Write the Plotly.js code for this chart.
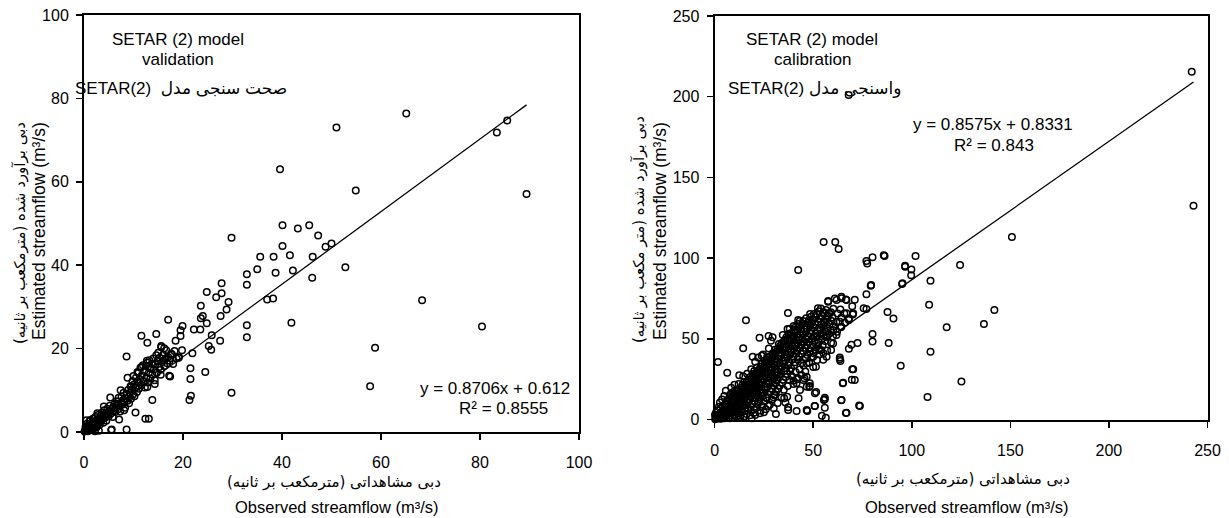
<!DOCTYPE html>
<html><head><meta charset="utf-8">
<script src="https://cdn.plot.ly/plotly-3.0.1.min.js"></script>
<style>html,body{margin:0;padding:0;background:#fff;}</style>
</head><body>
<div id="chart" style="width:1229px;height:518px;"></div>
<script>
// ---------- DATA ----------
// Validation set: [observed, estimated] m3/s
const validationPoints = [
[65.1,76.4],[51.0,73.0],[39.6,63.0],[54.9,57.9],[83.4,71.8],[85.5,74.7],[89.4,57.1],[40.1,49.6],[43.2,48.8],[45.5,49.6],
[47.3,47.1],[40.1,44.6],[38.3,42.0],[41.6,42.4],[46.2,42.0],[48.8,44.4],[50.0,45.2],[38.7,38.2],[42.2,38.7],[46.1,37.0],
[52.8,39.5],[38.2,32.0],[41.9,26.2],[68.3,31.6],[80.4,25.3],[58.8,20.2],[57.8,11.0],
[29.8,46.6],[35.6,42.0],[35.0,39.0],[32.9,37.8],[32.9,35.3],[27.8,35.7],[24.8,33.6],[27.8,33.3],[26.7,32.3],[29.2,31.2],
[37.0,31.8],[23.6,30.3],[28.8,29.4],[27.6,27.8],[24.0,27.8],[23.6,27.3],[24.8,26.1],[17.0,26.9],[19.9,25.4],[19.5,24.4],
[22.2,24.6],[23.5,24.6],[32.9,25.6],[32.9,22.7],[27.5,21.9],[25.8,23.2],[11.6,23.1],[14.6,23.5],[12.8,21.4],[18.5,21.9],
[19.5,23.0],[15.6,20.6],[16.2,20.1],[25.2,20.6],[25.7,19.7],[21.9,18.9],[17.8,18.5],[19.1,17.8],[8.6,18.1],[21.5,15.3],
[21.5,12.7],[24.5,14.4],[17.2,13.5],[21.6,8.7],[21.3,7.7],[29.8,9.4],[10.4,4.7],[12.4,3.2],[13.1,3.2],[8.6,0.6],[5.6,0.6],
[13.8,7.7],[12.8,10.8],[11.1,11.8],[12.7,17.1],[11.6,15.6],[13.3,15.3],[14.9,17.1],[16.5,17.7],[15.5,13.7],[17.4,13.3],
[14.3,11.5],[10.0,13.4],[8.8,13.0],[10.8,14.4],[9.6,10.9],[7.4,10.0],[5.3,8.3],[6.7,6.8],[8.1,5.2],[7.1,3.0],[4.0,6.1],
[2.7,4.5],[1.3,2.9],[0.7,0.9],
[0.2,0.3],[0.3,1.2],[0.5,0.5],[0.6,2.0],[0.8,0.2],[0.9,1.5],[1.0,0.8],[1.1,2.6],[1.2,1.3],[1.4,0.4],[1.5,2.1],[1.6,1.6],
[1.8,3.2],[1.9,0.9],[2.0,2.4],[2.1,1.7],[2.3,3.6],[2.4,2.0],[2.5,1.1],[2.6,2.9],[2.8,4.1],[2.9,2.5],[3.0,0.3],[3.1,3.3],
[3.2,1.8],[3.4,3.9],[3.5,2.8],[3.6,4.6],[3.8,3.2],[3.9,2.2],[4.0,4.0],[4.1,5.2],[4.3,3.5],[4.4,4.5],[4.5,2.7],[4.7,5.6],
[4.8,4.2],[5.0,3.8],[5.1,5.0],[5.2,6.3],[5.4,4.4],[5.5,0.5],[5.6,5.5],[5.8,3.6],[5.9,6.0],[6.0,5.1],[6.2,6.8],[6.3,4.8],
[6.5,5.9],[6.6,7.4],[6.8,5.4],[6.9,6.5],[7.0,8.2],[7.2,6.1],[7.3,4.9],[7.5,7.0],[7.6,8.5],[7.8,6.6],[7.9,7.6],[8.0,9.4],
[8.2,7.2],[8.3,5.8],[8.4,8.0],[8.6,9.0],[8.8,7.5],[8.9,10.1],[9.0,8.4],[9.1,6.9],[9.3,9.4],[9.4,11.0],[9.5,8.0],[9.7,10.2],
[9.8,12.2],[9.9,9.0],[10.1,11.4],[10.2,8.6],[10.4,10.6],[10.5,13.0],[10.7,9.6],[10.8,12.0],[11.0,14.2],[11.1,10.4],
[11.3,12.6],[11.4,15.4],[11.6,11.2],[11.7,13.6],[11.9,16.0],[12.0,12.2],[12.2,14.6],[12.3,10.7],[12.5,15.8],[12.6,13.0],
[12.8,16.6],[12.9,11.9],[13.1,14.2],[13.2,17.2],[13.4,12.8],[13.5,15.4],[13.7,16.4],[13.8,13.8],[14.0,17.6],[14.1,15.0],
[14.3,12.4],[14.4,16.2],[14.6,18.4],[14.7,14.2],[14.9,16.9],[15.0,19.0],[15.2,15.6],[15.3,17.8],[15.5,14.9],[15.6,20.3],
[15.8,16.8],[16.0,18.5],[16.2,15.8],[16.4,17.4],[16.6,19.6],[16.8,16.5],[17.0,18.0],[17.3,17.1],[17.6,18.8],[18.0,16.3],
[18.3,19.4],[18.7,17.6],[19.2,18.0],[19.8,19.6],[0.1,0.1],[0.4,0.8],[0.7,1.0],[1.3,0.6],[2.2,0.2],[0.5,2.8],[1.7,2.4],
[2.7,1.5],[3.3,2.5]
];
// Calibration set: [observed, estimated] m3/s
const calibrationPoints = [
[242.0,215.5],[242.9,132.5],[150.8,113.1],[55.3,110.0],[61.2,110.0],[62.9,105.6],[77.0,98.2],[77.4,96.6],[80.1,100.5],
[86.2,101.3],[101.9,101.3],[96.6,94.7],[99.8,93.0],[99.7,89.3],[124.5,95.7],[95.1,84.0],[109.5,86.0],[79.2,82.9],[77.0,77.6],
[71.1,74.2],[108.8,71.1],[141.9,67.8],[136.6,59.2],[117.7,57.1],[87.7,66.6],[90.7,62.5],[77.0,68.5],[75.6,68.9],[80.1,53.0],
[80.1,48.4],[88.3,47.4],[109.5,42.0],[94.4,33.3],[125.2,23.6],[108.0,13.9],[72.5,47.4],[69.4,46.3],[68.1,43.9],[70.3,31.1],
[69.6,24.7],[65.0,22.4],[64.2,11.9],[73.3,8.6],[66.6,4.0],[63.5,37.3],[63.8,36.2],[59.1,43.1],[55.9,12.5],[55.9,7.3],
[56.4,1.1],[54.4,2.3],[50.7,8.4],[47.0,5.3],[51.5,17.0],[48.0,20.1],[45.6,25.5],[42.4,92.6],[15.9,61.5],[1.7,35.6],
[14.5,44.1],[6.4,29.0],[22.8,50.7],[27.4,51.7],[29.4,50.9],[19.3,38.9],[23.9,39.5],[37.2,66.0],[37.0,56.1],[42.4,61.6],
[47.7,60.6],[43.7,55.9],[57.6,73.0],[61.9,74.0],[64.4,75.1],[66.9,74.0],[79.4,83.3],[85.8,101.8],[95.3,84.4],[96.6,95.3],
[41.6,5.3],[37.3,5.9],[31.1,3.4],[27.2,8.4],[23.0,3.8],[18.8,0.7],[42.6,13.1],[35.3,13.1],[35.9,10.6],[29.9,13.8],
[48.3,20.8],[46.7,26.5],[42.0,25.8],[40.0,24.0],[56.8,38.9],[63.5,38.4],[68.0,201.0],
[55.4,66.4],[57.6,73.4],[61.0,75.0],[64.3,76.0],[66.6,74.4],[70.3,65.8],[66.9,65.8],[63.5,60.6],[60.1,55.5],[56.7,51.3],
[68.1,61.6],[64.3,57.5],[61.8,52.3],[53.0,43.1],[50.0,38.9],[46.6,34.8],[51.4,32.7],[55.2,41.0],[60.1,47.1],[48.3,22.4],
[45.0,24.5],[50.9,16.2],[37.3,7.6],[46.7,5.9],[50.9,8.4],[55.4,12.1],[20.6,2.8],[17.1,6.9],[22.1,11.0],[26.4,13.1],
[30.6,15.2],[36.8,14.1],[43.3,18.3],[41.6,22.4],[46.7,20.3],[55.9,13.5],[65.2,22.8],[69.8,31.1],[71.1,24.5],[64.4,12.1],
[66.9,4.2],[73.7,8.4],[7.8,0.7],[12.9,1.4],[10.0,3.0],[15.0,2.0],[20.0,6.0],[25.0,4.5],
[0.3,0.2],[0.5,1.5],[0.2,3.0],[1.0,0.5],[1.2,2.4],[0.8,4.5],[1.4,1.2],
[2.0,1.0],[2.3,3.2],[1.8,5.6],[2.2,7.9],[3.1,0.4],[2.8,2.2],[3.3,4.4],[3.0,6.8],[2.7,10.5],
[4.2,1.5],[3.9,3.6],[4.4,5.8],[4.1,8.2],[3.8,12.4],[5.0,0.8],[5.3,3.0],[4.8,5.2],[5.2,7.4],[5.5,9.6],[4.9,14.6],
[6.1,2.2],[5.8,4.6],[6.3,6.8],[6.0,9.0],[6.4,11.5],[5.7,17.8],[7.2,1.2],[6.9,3.8],[7.4,6.2],[7.1,8.4],[6.8,10.8],[7.3,13.2],
[8.0,2.6],[8.3,5.4],[7.8,7.8],[8.2,10.2],[8.5,12.6],[7.9,15.5],[8.4,19.6],[9.1,1.0],[8.8,4.2],[9.4,7.0],[9.0,9.6],[9.3,12.0],
[8.9,14.4],[9.5,17.0],[10.2,3.0],[9.8,6.0],[10.4,8.8],[10.0,11.4],[10.3,13.8],[9.9,16.3],[10.1,21.5],
[11.0,1.8],[11.3,5.0],[10.8,8.0],[11.2,10.8],[11.5,13.2],[10.9,15.6],[11.4,18.4],
[12.1,3.8],[11.8,7.0],[12.4,10.2],[12.0,12.6],[12.3,15.0],[11.9,17.6],[12.2,22.0],[12.5,27.4],
[13.0,2.4],[13.3,6.0],[12.8,9.4],[13.2,12.0],[13.5,14.4],[12.9,16.8],[13.4,19.6],
[14.1,4.6],[13.8,8.2],[14.4,11.4],[14.0,13.8],[14.3,16.2],[13.9,18.8],[14.2,21.6],[14.5,26.8],
[15.0,1.6],[15.3,6.8],[14.8,10.6],[15.2,13.2],[15.5,15.6],[14.9,18.0],[15.4,20.6],[15.1,23.4],
[16.2,3.4],[15.8,8.8],[16.4,12.4],[16.0,15.0],[16.3,17.4],[15.9,20.0],[16.1,22.8],[16.5,28.4],
[17.1,5.4],[16.8,10.6],[17.4,14.2],[17.0,16.8],[17.3,19.2],[16.9,21.8],[17.2,24.6],
[18.0,2.6],[18.3,7.8],[17.8,12.4],[18.2,16.0],[18.5,18.6],[17.9,21.0],[18.4,23.6],[18.1,26.4],[18.6,31.2],
[19.1,9.6],[18.8,14.2],[19.4,17.8],[19.0,20.4],[19.3,22.8],[18.9,25.4],[19.2,28.2],
[20.0,4.2],[20.3,11.4],[19.8,16.0],[20.2,19.6],[20.5,22.2],[19.9,24.6],[20.4,27.2],[20.1,30.0],[20.6,35.8],
[21.1,7.2],[20.8,13.2],[21.4,17.8],[21.0,21.4],[21.3,24.0],[20.9,26.4],[21.2,29.0],[21.5,32.2],
[22.0,9.8],[22.3,15.0],[21.8,19.6],[22.2,23.2],[22.5,25.8],[21.9,28.2],[22.4,30.8],[22.1,38.4],
[23.2,5.6],[22.8,12.4],[23.4,16.8],[23.0,21.4],[23.3,25.0],[22.9,27.6],[23.1,30.0],[23.5,32.8],
[24.0,8.4],[24.3,14.6],[23.8,18.6],[24.2,23.2],[24.5,26.8],[23.9,29.4],[24.4,31.8],[24.1,34.6],[24.6,40.2],
[25.1,11.2],[24.8,16.6],[25.4,20.4],[25.0,25.0],[25.3,28.6],[24.9,31.2],[25.2,33.6],[25.5,36.4],
[26.0,6.4],[26.3,13.4],[25.8,18.4],[26.2,22.2],[26.5,26.8],[25.9,30.4],[26.4,33.0],[26.1,35.4],[26.6,38.6],
[27.1,15.6],[26.8,20.2],[27.4,24.0],[27.0,28.6],[27.3,32.2],[26.9,34.8],[27.2,37.2],[27.5,44.0],
[28.0,9.2],[28.3,17.4],[27.8,22.0],[28.2,25.8],[28.5,30.4],[27.9,34.0],[28.4,36.6],[28.1,39.0],[28.6,48.8],
[29.1,12.4],[28.8,19.2],[29.4,23.8],[29.0,27.6],[29.3,32.2],[28.9,35.8],[29.2,38.4],[29.5,41.0],
[30.0,7.0],[30.3,15.0],[29.8,21.0],[30.2,25.6],[30.5,29.4],[29.9,34.0],[30.4,37.6],[30.1,40.2],[30.6,43.2],
[31.1,17.2],[30.8,22.8],[31.4,27.4],[31.0,31.2],[31.3,35.8],[30.9,39.4],[31.2,42.0],
[32.0,10.2],[32.3,19.0],[31.8,24.6],[32.2,29.2],[32.5,33.0],[31.9,37.6],[32.4,41.2],[32.1,43.8],[32.6,46.8],
[33.1,21.0],[32.8,26.4],[33.4,31.0],[33.0,34.8],[33.3,39.4],[32.9,43.0],[33.2,45.6],
[34.0,13.6],[34.3,22.8],[33.8,28.2],[34.2,32.8],[34.5,36.6],[33.9,41.2],[34.4,44.8],[34.1,47.4],[34.6,52.4],
[35.1,18.4],[34.8,24.6],[35.4,30.0],[35.0,34.6],[35.3,38.4],[34.9,43.0],[35.2,46.6],[35.5,49.2],
[36.0,26.4],[36.3,31.8],[35.8,36.4],[36.2,40.2],[36.5,44.8],[35.9,48.4],[36.4,51.0],
[37.1,20.8],[36.8,28.2],[37.4,33.6],[37.0,38.2],[37.3,42.0],[36.9,46.6],[37.2,50.2],[37.5,53.2],
[38.0,24.4],[38.3,30.0],[37.8,35.4],[38.2,40.0],[38.5,43.8],[37.9,48.4],[38.4,52.0],[38.1,56.2],
[39.1,27.0],[38.8,31.8],[39.4,37.2],[39.0,41.8],[39.3,45.6],[38.9,50.2],[39.2,53.8],
[40.0,22.0],[40.3,33.6],[39.8,39.0],[40.2,43.6],[40.5,47.4],[39.9,52.0],[40.4,55.6],[40.1,58.0],
[41.1,29.4],[40.8,35.4],[41.4,40.8],[41.0,45.4],[41.3,49.2],[40.9,53.8],[41.2,57.4],
[42.0,25.0],[42.3,37.2],[41.8,42.6],[42.2,47.2],[42.5,51.0],[41.9,55.6],[42.4,59.2],
[43.1,31.0],[42.8,39.0],[43.4,44.4],[43.0,49.0],[43.3,52.8],[42.9,57.4],[43.2,61.0],
[44.0,27.6],[44.3,35.0],[43.8,40.8],[44.2,46.2],[44.5,50.8],[43.9,54.6],[44.4,59.2],
[45.1,33.4],[44.8,42.6],[45.4,48.0],[45.0,52.6],[45.3,56.4],[44.9,61.0],
[46.0,29.8],[46.3,37.8],[45.8,44.4],[46.2,49.8],[46.5,54.4],[45.9,58.2],[46.4,62.8],
[47.1,40.0],[46.8,46.2],[47.4,51.6],[47.0,56.2],[47.3,60.0],
[48.0,35.2],[48.3,42.2],[47.8,48.0],[48.2,53.4],[48.5,58.0],[47.9,61.8],[48.4,65.4],
[49.1,38.4],[48.8,44.4],[49.4,49.8],[49.0,55.2],[49.3,59.8],[48.9,63.6],
[50.0,32.6],[50.3,41.0],[49.8,46.6],[50.2,51.6],[50.5,57.0],[49.9,61.6],[50.4,65.4],
[51.1,43.4],[50.8,48.8],[51.4,53.4],[51.0,58.8],[51.3,63.4],
[52.0,36.8],[52.3,45.6],[51.8,51.0],[52.2,55.2],[52.5,60.6],[51.9,65.2],[52.4,69.0],
[53.1,40.2],[52.8,47.8],[53.4,53.2],[53.0,57.0],[53.3,62.4],[52.9,67.0],
[54.0,43.0],[54.3,50.0],[53.8,55.4],[54.2,58.8],[54.5,64.2],[53.9,68.8],
[55.1,37.0],[54.8,46.2],[55.4,52.2],[55.0,57.6],[55.3,60.6],[54.9,66.0],
[56.0,48.6],[56.3,54.4],[55.8,59.8],[56.2,62.4],[56.5,67.8],
[57.1,42.8],[56.8,51.0],[57.4,56.6],[57.0,62.0],[57.3,64.2],
[58.0,53.2],[58.3,58.8],[57.8,64.2],[58.2,66.0],
[59.1,47.6],[58.8,55.4],[59.4,61.0],[59.0,66.4],
[60.0,51.4],[60.3,57.6],[59.8,63.2],[60.2,68.6],
[62.1,54.4],[61.8,60.4],[62.4,65.6],[64.0,57.2],[64.3,63.0],[63.8,68.2],
[66.1,60.0],[65.8,65.6],[68.0,62.6],[70.1,65.0],[69.8,70.2]
];
// Linear trend lines printed on the chart
const validationFit = {slope: 0.8706, intercept: 0.612, r2: 0.8555};
const calibrationFit = {slope: 0.8575, intercept: 0.8331, r2: 0.843};
// Axis ticks
const validationTicks = [0, 20, 40, 60, 80, 100];
const calibrationTicks = [0, 50, 100, 150, 200, 250];
// Texts
const yTitleFa1 = "دبی برآورد شده (مترمکعب بر ثانیه)";
const yTitleFa2 = "دبی برآورد شده (متر مکعب بر ثانیه)";
const yTitleEn = "Estimated streamflow (m³/s)";
const xTitleFa = "دبی مشاهداتی (مترمکعب بر ثانیه)";
const xTitleEn = "Observed streamflow (m³/s)";
const modelLabel = "SETAR (2) model";
const validationLabel = "validation";
const calibrationLabel = "calibration";
const validationFa = "SETAR(2)  صحت سنجی مدل";
const calibrationFa = "SETAR(2) واسنجی مدل";

// ---------- DRAWING ----------
const W = 1229, H = 518;
const FONT = "'Liberation Sans Narrow', 'Arial Narrow', 'Liberation Sans', Arial, 'DejaVu Sans', sans-serif";
const FAFONT = "'DejaVu Sans', 'Liberation Sans', sans-serif";
const px = v => v / W;
const py = v => 1 - v / H;

function xSpan(points) {
  const xs = points.map(p => p[0]);
  return [Math.min(...xs), Math.max(...xs)];
}
const vRange = xSpan(validationPoints);
const cRange = xSpan(calibrationPoints);

const marker = {symbol: 'circle-open', size: 6.5, color: '#000', line: {width: 1.5, color: '#000'}};

const traces = [
  {type: 'scatter', mode: 'markers', x: validationPoints.map(p => p[0]), y: validationPoints.map(p => p[1]),
   xaxis: 'x', yaxis: 'y', marker: marker, cliponaxis: false, hoverinfo: 'skip'},
  {type: 'scatter', mode: 'lines', x: vRange, y: vRange.map(v => validationFit.slope * v + validationFit.intercept),
   xaxis: 'x', yaxis: 'y', line: {color: '#000', width: 1.3}, hoverinfo: 'skip'},
  {type: 'scatter', mode: 'markers', x: calibrationPoints.map(p => p[0]), y: calibrationPoints.map(p => p[1]),
   xaxis: 'x2', yaxis: 'y2', marker: marker, cliponaxis: false, hoverinfo: 'skip'},
  {type: 'scatter', mode: 'lines', x: cRange, y: cRange.map(v => calibrationFit.slope * v + calibrationFit.intercept),
   xaxis: 'x2', yaxis: 'y2', line: {color: '#000', width: 1.3}, hoverinfo: 'skip'}
];

function axis(domain, range, ticks, anchor, standoff) {
  return {
    domain: domain, range: range, anchor: anchor, tickvals: ticks, ticktext: ticks.map(String),
    showgrid: false, zeroline: false, showline: true, mirror: true, linecolor: '#000', linewidth: 2,
    ticks: 'outside', ticklen: 6, tickwidth: 1.5, tickcolor: '#000',
    tickfont: {family: FONT, size: 16, color: '#000'}, ticklabelstandoff: standoff, fixedrange: true
  };
}

const T = (text, x, y, opts = {}) => Object.assign({
  text: text, xref: 'paper', yref: 'paper', x: px(x), y: py(y), showarrow: false,
  xanchor: 'center', yanchor: 'middle', font: {family: FONT, size: 17, color: '#000'}
}, opts);

const FA = {family: FAFONT, size: 15, color: '#000'};
const annotations = [
  T(modelLabel, 178, 40), T(validationLabel, 178, 60),
  T(validationFa, 181, 88),
  T('y = ' + validationFit.slope + 'x + ' + validationFit.intercept, 572, 388, {xanchor: 'right'}),
  T('R² = ' + validationFit.r2, 503, 408),
  T(yTitleFa1, 20, 233, {textangle: -90, font: FA}),
  T(yTitleEn, 39, 231, {textangle: -90, font: {family: FONT, size: 17.5, color: '#000'}}),
  T(xTitleFa, 334, 482, {font: FA}),
  T(xTitleEn, 337, 507, {font: {family: FONT, size: 16.5, color: '#000'}}),

  T(modelLabel, 812, 40), T(calibrationLabel, 813, 60),
  T(calibrationFa, 814, 88),
  T('y = ' + calibrationFit.slope + 'x + ' + calibrationFit.intercept, 993, 125),
  T('R² = ' + calibrationFit.r2, 994, 145),
  T(yTitleFa2, 639, 230, {textangle: -90, font: FA}),
  T(yTitleEn, 660, 231, {textangle: -90, font: {family: FONT, size: 17.5, color: '#000'}}),
  T(xTitleFa, 963, 479, {font: FA}),
  T(xTitleEn, 967, 507, {font: {family: FONT, size: 16.5, color: '#000'}})
];

const layout = {
  width: W, height: H, margin: {l: 0, r: 0, t: 0, b: 0}, showlegend: false,
  paper_bgcolor: '#fff', plot_bgcolor: '#fff',
  xaxis: axis([px(84), px(579)], [0, 100], validationTicks, 'y', 9),
  yaxis: axis([py(432), py(15)], [0, 100], validationTicks, 'x', 4),
  xaxis2: axis([px(714.6), px(1207.5)], [0, 250], calibrationTicks, 'y2', 9),
  yaxis2: axis([py(419.5), py(16)], [0, 250], calibrationTicks, 'x2', 4),
  annotations: annotations
};

Plotly.newPlot('chart', traces, layout, {displayModeBar: false, staticPlot: true});
</script>
</body></html>
